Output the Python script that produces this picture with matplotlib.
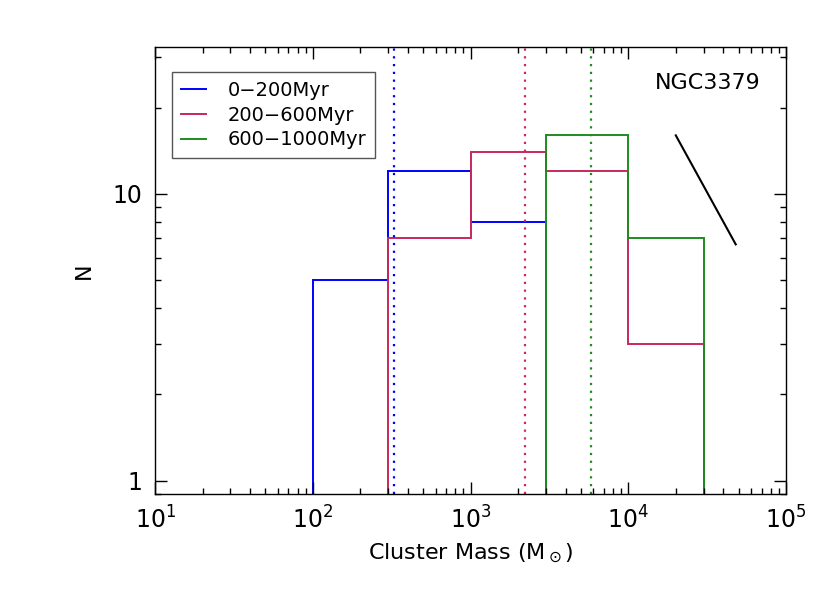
import numpy as np
import matplotlib.pyplot as plt
from matplotlib.ticker import LogLocator, NullFormatter, FixedLocator, FixedFormatter

# histogram data
edges_young = [100, 300, 1000, 3000]
n_young = [5, 12, 8]
edges_mid = [300, 1000, 3000, 10000, 30000]
n_mid = [7, 14, 12, 3]
edges_old = [3000, 10000, 30000]
n_old = [16, 7]

# median masses (dotted lines)
med_young = 325
med_mid = 2220
med_old = 5780

# slope -1 reference line
slope_x = [2.0e4, 4.8e4]
slope_y = [16.0, 6.67]

labels = ['0\u2212200Myr', '200\u2212600Myr', '600\u22121000Myr']
colors = ['#0000ff', '#c8285a', '#1e8c1e']

plt.rcParams['font.family'] = ['DejaVu Sans']

fig = plt.figure(figsize=(8.3, 5.93), dpi=100)
ax = fig.add_axes([0.187, 0.167, 0.760, 0.753])

ax.set_xscale('log')
ax.set_yscale('log')

for e, n, c, lab in zip([edges_young, edges_mid, edges_old],
                        [n_young, n_mid, n_old], colors, labels):
    ax.stairs(n, e, baseline=0.5, color=c, lw=1.4, label=lab)

for m, c in zip([med_young, med_mid, med_old], colors):
    ax.axvline(m, color=c, ls=(0, (1, 2.5)), lw=1.6)

ax.plot(slope_x, slope_y, color='black', lw=1.5)

ax.set_xlim(10, 1e5)
ax.set_ylim(0.9, 32.4)

ax.xaxis.set_major_locator(LogLocator(base=10, numticks=10))
ax.xaxis.set_minor_locator(LogLocator(base=10, subs=np.arange(2, 10), numticks=20))
ax.xaxis.set_minor_formatter(NullFormatter())

ax.yaxis.set_major_locator(FixedLocator([1, 10]))
ax.yaxis.set_major_formatter(FixedFormatter(['1', '10']))
ax.yaxis.set_minor_locator(LogLocator(base=10, subs=np.arange(2, 10), numticks=20))
ax.yaxis.set_minor_formatter(NullFormatter())

ax.tick_params(which='both', direction='in', top=True, right=True, width=1.0)
ax.tick_params(which='major', length=8.5, labelsize=17, pad=9)
ax.tick_params(which='minor', length=4.3)
for s in ax.spines.values():
    s.set_linewidth(1.0)

ax.set_xlabel(r'Cluster Mass (M$_\odot$)', fontsize=16, labelpad=6)
ax.set_ylabel('N', fontsize=16, labelpad=14)

ax.text(0.959, 0.92, 'NGC3379', transform=ax.transAxes, ha='right', va='center',
        fontsize=16)

leg = ax.legend(loc='upper left', bbox_to_anchor=(0.027, 0.945), fontsize=14,
                fancybox=False, edgecolor='#555555', handlelength=1.3,
                handletextpad=1.1, borderpad=0.45, labelspacing=0.3,
                borderaxespad=0, framealpha=1)
leg.get_frame().set_linewidth(1.0)

fig.savefig('out.png', dpi=100)
